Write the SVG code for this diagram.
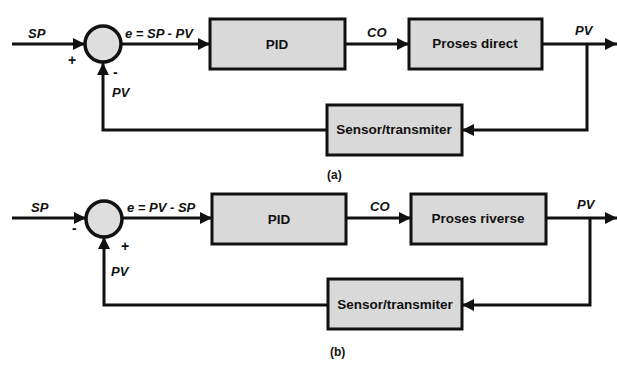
<svg xmlns="http://www.w3.org/2000/svg" width="617" height="367" viewBox="0 0 617 367">
<defs>
<marker id="ah" viewBox="0 0 10 10" refX="10" refY="5" markerWidth="5.5" markerHeight="4" markerUnits="strokeWidth" orient="auto">
<path d="M0,0 L10,5 L0,10 z" fill="#111"/>
</marker>
<style>
.box{fill:#d9d9d9;stroke:#111;stroke-width:3}
.sum{fill:#dedede;stroke:#111;stroke-width:3.5}
.ln{fill:none;stroke:#111;stroke-width:3}
.arr{fill:none;stroke:#111;stroke-width:3;marker-end:url(#ah)}
.lbl{font-family:"Liberation Sans",Arial,sans-serif;font-weight:bold;font-size:13.5px;fill:#111;text-anchor:middle}
.it{font-family:"Liberation Sans",Arial,sans-serif;font-weight:bold;font-style:italic;font-size:13px;fill:#111}
.sg{font-family:"Liberation Sans",Arial,sans-serif;font-weight:bold;font-size:14px;fill:#111}
.cap{font-family:"Liberation Sans",Arial,sans-serif;font-weight:bold;font-size:12px;fill:#111}
</style>
</defs>
<rect width="617" height="367" fill="#fff"/>

<g id="connectors">
<!-- (a) -->
<line class="arr" x1="12" y1="44" x2="85" y2="44"/>
<line class="arr" x1="121" y1="44" x2="210" y2="44"/>
<line class="arr" x1="345" y1="44" x2="409" y2="44"/>
<line class="arr" x1="542" y1="44" x2="617" y2="44"/>
<polyline class="arr" points="587,44 587,130 462,130"/>
<polyline class="arr" points="327,130 103,130 103,63"/>
<!-- (b) -->
<line class="arr" x1="12" y1="218" x2="86" y2="218"/>
<line class="arr" x1="122" y1="218" x2="212" y2="218"/>
<line class="arr" x1="346" y1="218" x2="411" y2="218"/>
<line class="arr" x1="546" y1="218" x2="617" y2="218"/>
<polyline class="arr" points="590,218 590,305 462,305"/>
<polyline class="arr" points="328,305 104,305 104,237"/>
</g>

<g id="sum-a"><circle class="sum" cx="103" cy="44" r="18"/></g>
<g id="pid-a"><rect class="box" x="210" y="19" width="135" height="50"/><text class="lbl" x="277" y="49">PID</text></g>
<g id="proses-direct"><rect class="box" x="409" y="19" width="133" height="50"/><text class="lbl" x="475" y="48">Proses direct</text></g>
<g id="sensor-a"><rect class="box" x="327" y="105" width="135" height="50"/><text class="lbl" x="394" y="134">Sensor/transmiter</text></g>

<g id="sum-b"><circle class="sum" cx="104" cy="219" r="18"/></g>
<g id="pid-b"><rect class="box" x="212" y="194" width="134" height="50"/><text class="lbl" x="279" y="224">PID</text></g>
<g id="proses-riverse"><rect class="box" x="411" y="194" width="135" height="50"/><text class="lbl" x="478" y="223">Proses riverse</text></g>
<g id="sensor-b"><rect class="box" x="328" y="279" width="134" height="50"/><text class="lbl" x="395" y="309">Sensor/transmiter</text></g>

<g id="labels">
<text class="it" x="28" y="38">SP</text>
<text class="sg" x="68" y="65">+</text>
<text class="sg" x="113" y="77">-</text>
<text class="it" x="112" y="97">PV</text>
<text class="it" x="125" y="38">e = SP - PV</text>
<text class="it" x="367" y="37">CO</text>
<text class="it" x="575" y="35">PV</text>
<text class="cap" x="327" y="179">(a)</text>

<text class="it" x="31" y="212">SP</text>
<text class="sg" x="72" y="233">-</text>
<text class="sg" x="121" y="251">+</text>
<text class="it" x="111" y="276">PV</text>
<text class="it" x="127" y="212">e = PV - SP</text>
<text class="it" x="370" y="211">CO</text>
<text class="it" x="577" y="209">PV</text>
<text class="cap" x="330" y="356">(b)</text>
</g>
</svg>
